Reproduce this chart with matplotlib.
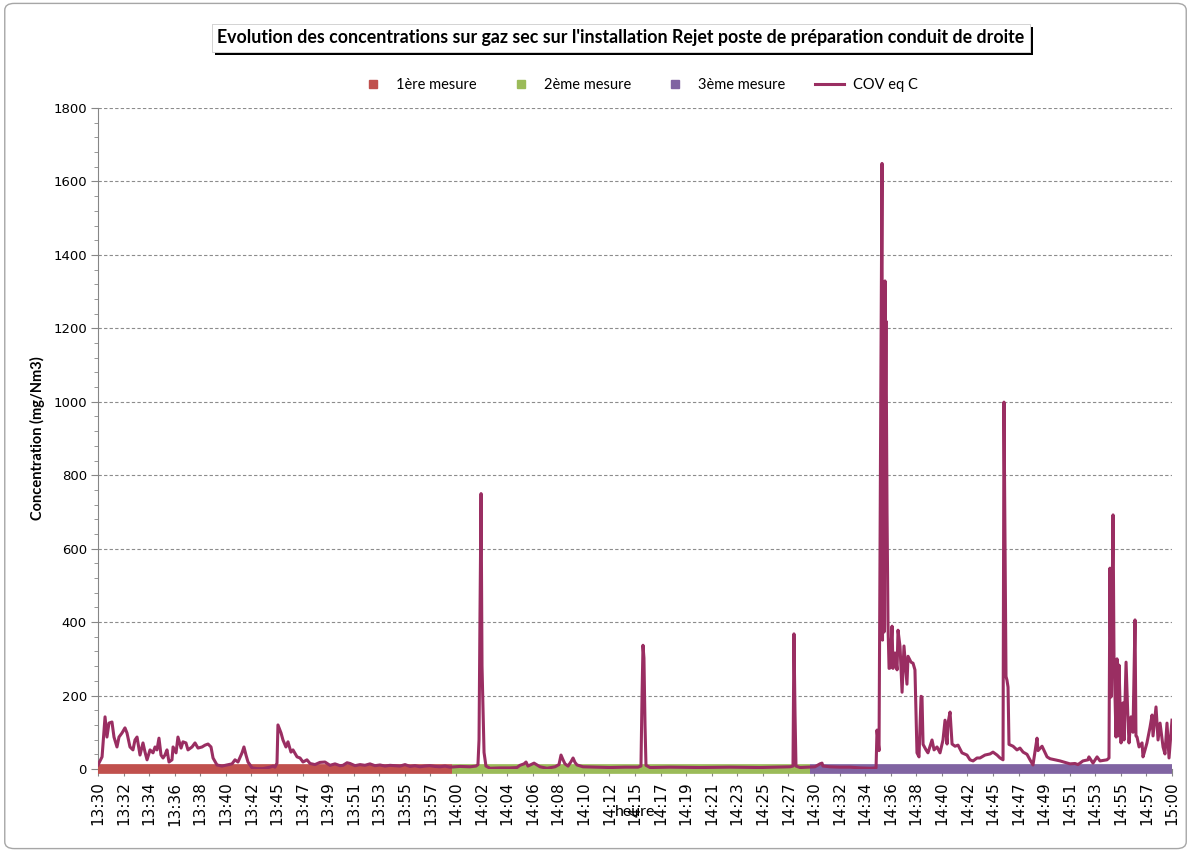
import numpy as np
import matplotlib
matplotlib.use("Agg")
import matplotlib.pyplot as plt
import matplotlib.patheffects as pe
from matplotlib.patches import FancyBboxPatch
from matplotlib.lines import Line2D
from matplotlib.ticker import MultipleLocator

TITRE = "Evolution des concentrations sur gaz sec sur l'installation Rejet poste de préparation conduit de droite"

# Category labels of the time axis (13:30 -> 15:00)
heure_labels = ["13:30", "13:32", "13:34", "13:36", "13:38", "13:40", "13:42",
                "13:45", "13:47", "13:49", "13:51", "13:53", "13:55", "13:57",
                "14:00", "14:02", "14:04", "14:06", "14:08", "14:10", "14:12",
                "14:15", "14:17", "14:19", "14:21", "14:23", "14:25", "14:27",
                "14:30", "14:32", "14:34", "14:36", "14:38", "14:40", "14:42",
                "14:45", "14:47", "14:49", "14:51", "14:53", "14:55", "14:57",
                "15:00"]

# Measurement periods, in minutes after 13:30
mesures = ["1ère mesure", "2ème mesure", "3ème mesure"]
mesure_debut = [0.0, 29.7, 59.7]
mesure_fin = [29.7, 59.7, 90.0]
mesure_couleurs = ["#C0504D", "#9BBB59", "#8064A2"]

# COV eq C readings: minutes after 13:30 and concentration (mg/Nm3)
minutes = [0.00, 0.34, 0.59, 0.75, 0.92, 1.17, 1.34, 1.59, 1.76, 2.01,
           2.26, 2.43, 2.68, 2.93, 3.10, 3.27, 3.52, 3.77, 3.94, 4.11,
           4.36, 4.61, 4.78, 4.94, 5.11, 5.28, 5.45, 5.61, 5.78, 5.95,
           6.20, 6.29, 6.54, 6.70, 6.96, 7.12, 7.37, 7.54, 7.88, 8.13,
           8.38, 8.72, 8.97, 9.22, 9.47, 9.64, 9.97, 10.39, 10.81, 11.23,
           11.48, 11.73, 12.07, 12.23, 12.40, 12.57, 12.91, 13.32, 13.83, 14.41,
           14.67, 14.83, 15.00, 15.08, 15.34, 15.50, 15.75, 15.92, 16.17, 16.34,
           16.68, 16.93, 17.18, 17.51, 17.77, 18.18, 18.60, 19.02, 19.44, 19.86,
           20.28, 20.53, 20.87, 21.12, 21.54, 21.96, 22.37, 22.79, 23.21, 23.63,
           24.05, 24.47, 24.89, 25.31, 25.73, 26.15, 26.56, 26.98, 27.40, 27.82,
           28.24, 28.66, 29.08, 29.50, 29.92, 30.34, 31.17, 31.68, 31.84, 31.93,
           32.01, 32.10, 32.18, 32.26, 32.35, 32.51, 32.85, 33.69, 34.53, 35.11,
           35.36, 35.70, 35.87, 36.03, 36.54, 37.04, 37.63, 38.30, 38.63, 38.80,
           38.97, 39.13, 39.39, 39.64, 39.81, 39.97, 40.14, 40.64, 41.65, 42.91,
           44.16, 45.25, 45.50, 45.59, 45.67, 45.75, 45.84, 45.92, 46.26, 47.93,
           50.45, 52.96, 55.48, 57.99, 58.24, 58.32, 58.41, 58.49, 58.83, 59.41,
           60.08, 60.50, 60.67, 60.75, 61.34, 62.18, 63.02, 63.86, 64.69, 65.20,
           65.28, 65.45, 65.53, 65.61, 65.70, 65.74, 65.78, 65.87, 65.95, 65.99,
           66.03, 66.12, 66.20, 66.29, 66.37, 66.54, 66.62, 66.79, 66.96, 67.04,
           67.21, 67.38, 67.54, 67.79, 67.88, 68.13, 68.30, 68.46, 68.63, 68.80,
           68.97, 69.05, 69.14, 69.39, 69.55, 69.89, 70.06, 70.31, 70.56, 70.81,
           70.98, 71.15, 71.23, 71.40, 71.57, 71.82, 72.07, 72.40, 72.82, 73.07,
           73.33, 73.66, 73.91, 74.33, 74.75, 75.00, 75.34, 75.59, 75.84, 75.92,
           76.01, 76.09, 76.17, 76.26, 76.34, 76.68, 77.01, 77.26, 77.52, 77.85,
           78.10, 78.35, 78.69, 78.77, 79.11, 79.53, 79.78, 80.20, 80.62, 81.03,
           81.45, 81.87, 82.12, 82.29, 82.54, 82.96, 83.04, 83.38, 83.72, 83.97,
           84.55, 84.72, 84.80, 84.89, 85.06, 85.14, 85.31, 85.39, 85.48, 85.56,
           85.73, 85.89, 85.98, 86.15, 86.31, 86.40, 86.56, 86.73, 86.90, 86.98,
           87.07, 87.24, 87.49, 87.57, 87.74, 87.90, 88.16, 88.33, 88.41, 88.66,
           88.83, 89.00, 89.25, 89.41, 89.58, 89.75, 90.00]
cov = [11, 33, 142, 87, 125, 128, 87, 60, 87, 98,
       112, 98, 60, 52, 79, 87, 38, 71, 46, 25,
       52, 44, 60, 52, 84, 38, 30, 38, 52, 19,
       25, 60, 44, 87, 57, 74, 71, 52, 60, 71,
       57, 60, 65, 68, 60, 30, 11, 8, 11, 14,
       25, 19, 44, 60, 38, 19, 3, 1, 1, 5,
       8, 5, 16, 120, 98, 79, 60, 74, 46, 52,
       33, 30, 19, 25, 15, 12, 18, 19, 10, 14,
       9, 10, 17, 15, 9, 12, 10, 14, 9, 11,
       8, 10, 9, 8, 12, 7, 9, 6, 8, 9,
       7, 6, 8, 5, 6, 7, 6, 8, 12, 80,
       420, 750, 280, 170, 45, 8, 2, 3, 3, 4,
       10, 14, 19, 8, 16, 6, 2, 6, 12, 38,
       25, 14, 8, 20, 30, 18, 11, 6, 5, 4,
       5, 5, 8, 200, 337, 302, 120, 10, 4, 5,
       4, 5, 4, 6, 8, 368, 150, 8, 4, 5,
       6, 14, 16, 8, 6, 5, 5, 3, 2, 3,
       106, 50, 600, 1100, 1649, 351, 1247, 373, 1329, 1028,
       1220, 700, 394, 274, 275, 389, 274, 316, 270, 378,
       333, 209, 335, 231, 307, 291, 288, 270, 44, 33,
       198, 196, 67, 52, 44, 79, 52, 60, 44, 79,
       133, 68, 125, 155, 68, 62, 65, 44, 38, 25,
       22, 30, 30, 38, 41, 46, 38, 30, 25, 999,
       597, 252, 242, 223, 67, 62, 52, 57, 46, 40,
       25, 11, 84, 50, 62, 33, 28, 25, 22, 18,
       14, 15, 12, 16, 22, 25, 33, 16, 33, 22,
       25, 30, 547, 196, 692, 305, 87, 300, 90, 283,
       71, 180, 79, 291, 133, 71, 142, 100, 406, 90,
       87, 60, 71, 33, 52, 71, 114, 147, 90, 169,
       79, 125, 60, 41, 125, 30, 133]

COV_COULEUR = "#9A2E62"
GRIS = "#868686"

W, H = 1191, 852
fig = plt.figure(figsize=(W / 100, H / 100), dpi=100)

# plot area in pixels: x 98 -> 1172, y 108 -> 769
ax = fig.add_axes([98 / W, 1 - 769 / H, (1172 - 98) / W, (769 - 108) / H])

# measurement bands along the zero line
for deb, fin, coul in zip(mesure_debut, mesure_fin, mesure_couleurs):
    ax.plot([deb, fin], [0, 0], color=coul, lw=7, solid_capstyle="butt",
            clip_on=False, zorder=3)

ax.plot(minutes, cov, color=COV_COULEUR, lw=2.2, zorder=4)

ax.set_xlim(0, 90)
ax.set_ylim(0, 1800)

ax.set_xticks(np.linspace(0, 90, len(heure_labels)))
ax.set_xticklabels(heure_labels, rotation=90, fontsize=11)
ax.yaxis.set_major_locator(MultipleLocator(200))
ax.yaxis.set_minor_locator(MultipleLocator(40))
ax.tick_params(axis="y", which="major", direction="out", length=5, color=GRIS,
               labelsize=9.5, pad=3)
ax.tick_params(axis="y", which="minor", direction="out", length=3, color=GRIS)
ax.tick_params(axis="x", direction="out", length=5, color=GRIS, pad=4)

ax.yaxis.grid(True, which="major", linestyle=(0, (3, 2)), color="#8C8C8C", lw=0.8)
ax.set_axisbelow(True)

for s in ("top", "right"):
    ax.spines[s].set_visible(False)
for s in ("left", "bottom"):
    ax.spines[s].set_color(GRIS)

ax.set_ylabel("Concentration (mg/Nm3)", family="Lato", fontweight="bold", fontsize=10.5)
ax.yaxis.set_label_coords(-0.049, 0.5)
ax.set_xlabel("heure", family="Lato", fontsize=11.5)
ax.xaxis.set_label_coords(0.5, -(805 - 769) / (769 - 108))

# title with a dark drop shadow
titre = fig.text(621 / W, 1 - 38 / H, TITRE, ha="center", va="center",
                 family="Lato", fontweight="bold", fontsize=12.8,
                 bbox=dict(boxstyle="square,pad=0.3", fc="white", ec="#D0D0D0", lw=0.6))
titre.get_bbox_patch().set_path_effects([
    pe.withSimplePatchShadow(offset=(2.2, -2.2), shadow_rgbFace="black", alpha=1.0),
    pe.Normal()])

# legend
poignees = [Line2D([], [], marker="s", markersize=6, linestyle="None", color=c)
            for c in mesure_couleurs]
poignees.append(Line2D([], [], color=COV_COULEUR, lw=2.2))
fig.legend(poignees, mesures + ["COV eq C"], loc="center",
           bbox_to_anchor=(638 / W, 1 - 85 / H), ncol=4, frameon=False,
           prop={"family": "Lato", "size": 10.5}, handlelength=2.0,
           handletextpad=0.6, columnspacing=2.0)

# chart area border
fig.patches.append(FancyBboxPatch((0.004, 0.004), 0.992, 0.992,
                                  boxstyle="round,pad=0,rounding_size=0.008",
                                  transform=fig.transFigure, fill=False,
                                  ec="#A6A6A6", lw=1.0))

fig.savefig("out.png", dpi=100)
